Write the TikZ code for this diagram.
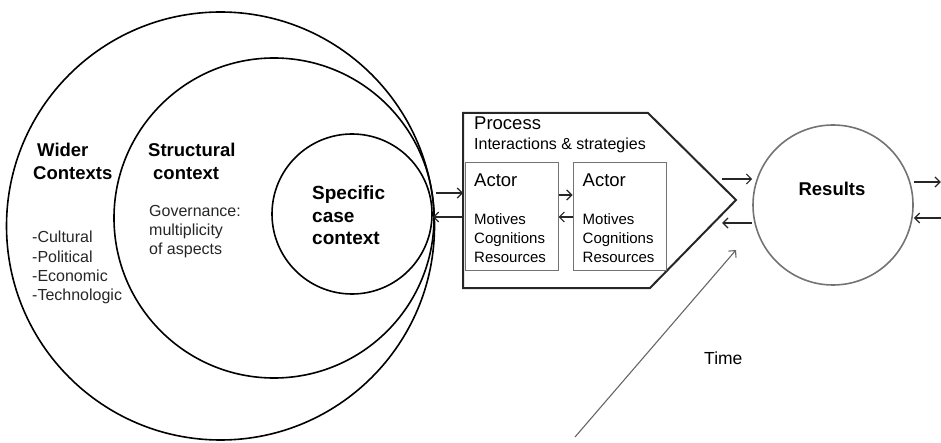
\documentclass[tikz,border=0pt]{standalone}
\usepackage{fontspec}
\setmainfont{Liberation Sans}
\usetikzlibrary{arrows.meta}

\begin{document}
\begin{tikzpicture}[x=1pt,y=-1pt,>={Straight Barb[length=5pt,width=10pt]},
  ring/.style={draw,circle,line width=1.6pt,inner sep=0pt},
  actorbox/.style={draw=black!55,line width=1pt,minimum width=93pt,minimum height=108pt,inner sep=0pt},
  link/.style={line width=1.2pt,black!85},
  txt/.style={inner sep=0pt,align=left,anchor=north west}]
  \useasboundingbox (0,0) rectangle (941,443);

  \node[ring,minimum size=428pt] (wide) at (220.5,226) {};
  \node[ring,minimum size=320pt] (struct) at (274,218) {};
  \node[ring,minimum size=160pt] (spec) at (352,214) {};

  \node[txt,font=\bfseries\fontsize{18.5}{23}\selectfont] (widelbl) at (33,143) {\hspace*{4pt}Wider\\Contexts};
  \node[txt,font=\fontsize{16}{19.3}\selectfont,text=black!85] (widelist) at (32,231) {-Cultural\\-Political\\-Economic\\-Technologic};
  \node[txt,font=\bfseries\fontsize{18.5}{23}\selectfont] (structlbl) at (148,143) {Structural\\\hspace*{5pt}context};
  \node[txt,font=\fontsize{16}{19}\selectfont,text=black!85] (structgov) at (149,205) {Governance:\\multiplicity\\of aspects};
  \node[txt,font=\bfseries\fontsize{19}{22.5}\selectfont] (speclbl) at (312,186) {Specific\\case\\context};

  \coordinate (pnw) at (463,113);
  \coordinate (pne) at (648,113);
  \coordinate (tip) at (736,200);
  \coordinate (pse) at (650,288);
  \coordinate (psw) at (463,288);
  \draw[line width=2pt,black!85] (pnw) -- (pne) -- (tip) -- (pse) -- (psw) -- cycle;
  \node[inner sep=0pt,anchor=base west,font=\fontsize{18.5}{22}\selectfont] (proclbl) at (474,129.7) {Process};
  \node[inner sep=0pt,anchor=base west,font=\fontsize{16}{19}\selectfont] (procsub) at (474,149.8) {Interactions \& strategies};

  \node[actorbox] (act1) at (511.5,217) {};
  \node[actorbox] (act2) at (619.5,217) {};
  \node[inner sep=0pt,anchor=base west,font=\fontsize{18.5}{22}\selectfont] (act1lbl) at (474,186.6) {Actor};
  \node[inner sep=0pt,anchor=base west,font=\fontsize{18.5}{22}\selectfont] (act2lbl) at (582.5,186.6) {Actor};
  \node[txt,font=\fontsize{15}{18.7}\selectfont] (act1txt) at (474,213.6) {Motives\\Cognitions\\Resources};
  \node[txt,font=\fontsize{15}{18.7}\selectfont] (act2txt) at (582.5,213.6) {Motives\\Cognitions\\Resources};

  \draw[link,->] ([xshift=3pt,yshift=21pt]spec.east) -- ([yshift=21pt]spec.east -| pnw);
  \draw[link,->] ([yshift=-3pt]spec.east -| pnw) -- ([yshift=-3pt]spec.east);
  \draw[link,->] ([yshift=22pt]act1.east) -- ([yshift=22pt]act2.west);
  \draw[link,->] (act2.west) -- (act1.east);

  \node[circle,draw=black!55,line width=1.6pt,minimum size=160pt,inner sep=0pt] (res) at (833,205) {};
  \node[inner sep=0pt,font=\bfseries\fontsize{18.5}{22}\selectfont] (reslbl) at (832,189) {Results};

  \draw[link,->] ([xshift=-30pt,yshift=26pt]res.west) -- ([yshift=26pt]res.west);
  \draw[link,->] ([yshift=-18pt]res.west) -- ++(-30,0);
  \draw[link,->] ([yshift=23pt]res.east) -- ++(27,0);
  \draw[link,<-] ([yshift=-13pt]res.east) -- ++(27,0);

  \coordinate (t0) at (575,437);
  \coordinate (t1) at (736,250);
  \draw[->,black!60,line width=1.1pt] (t0) -- (t1);
  \node[inner sep=0pt,anchor=west,font=\fontsize{17.5}{21}\selectfont] (timelbl) at (704,358) {Time};
\end{tikzpicture}
\end{document}
